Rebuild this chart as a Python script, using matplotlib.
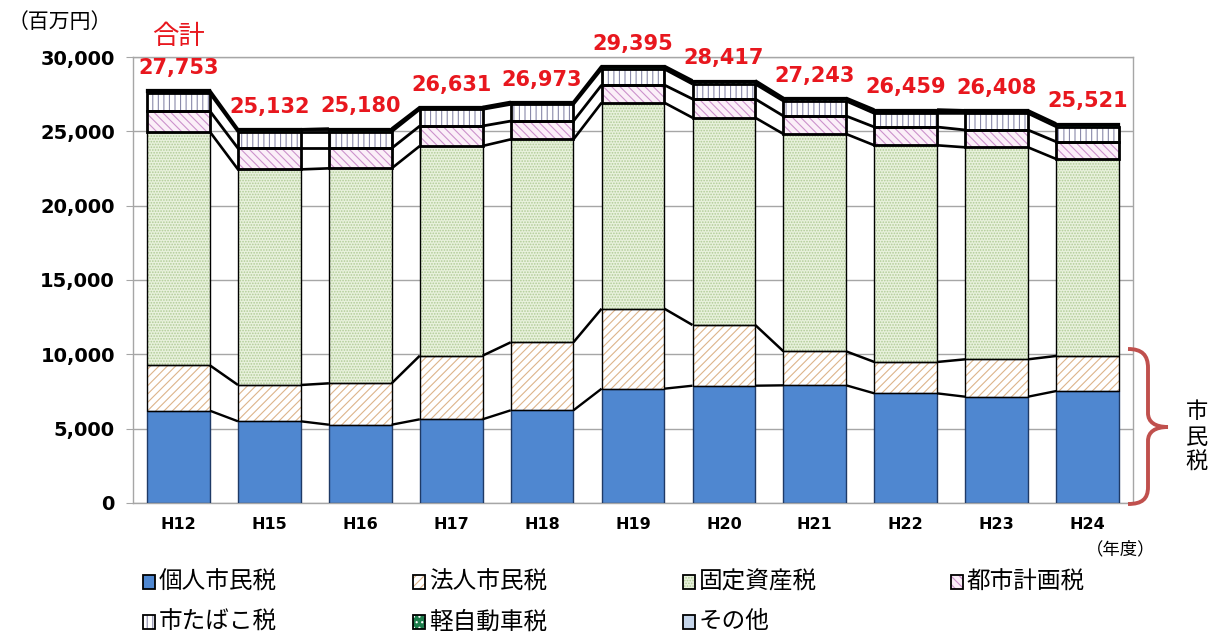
import matplotlib

matplotlib.use("Agg")
import matplotlib.pyplot as plt
import numpy as np
from matplotlib.patches import PathPatch, Rectangle
from matplotlib.path import Path
from matplotlib.ticker import FuncFormatter

# 年度別 市税収入 (百万円)
years = ["H12", "H15", "H16", "H17", "H18", "H19", "H20", "H21", "H22", "H23", "H24"]
kojin = [6210, 5495, 5267, 5630, 6235, 7690, 7890, 7915, 7375, 7150, 7530]
hojin = [3052, 2442, 2783, 4280, 4575, 5380, 4080, 2285, 2110, 2515, 2360]
kotei = [15713, 14503, 14460, 14105, 13650, 13855, 13945, 14620, 14575, 14260, 13250]
toshi = [1395, 1420, 1350, 1345, 1230, 1190, 1260, 1210, 1230, 1165, 1160]
tabako = [1190, 1115, 1115, 1120, 1125, 1075, 1005, 1010, 920, 1118, 1010]
keiji = [100, 105, 108, 110, 112, 115, 118, 120, 122, 125, 130]
sonota = [93, 52, 97, 41, 46, 90, 119, 83, 127, 75, 81]
totals = [27753, 25132, 25180, 26631, 26973, 29395, 28417, 27243, 26459, 26408, 25521]

labels = ["個人市民税", "法人市民税", "固定資産税", "都市計画税", "市たばこ税", "軽自動車税", "その他"]

JP = ["Noto Sans CJK JP", "DejaVu Sans"]
RED = "#E8171E"
W, H = 1211, 635

plt.rcParams["hatch.linewidth"] = 0.8

# face, hatch, hatch colour, outline colour, outline width, connector width
styles = [
    ("#4F87D0", None, "#4F87D0", "#1F3A66", 1.0, 1.7),
    ("#FFFFFF", "////", "#DDB48A", "#000000", 1.0, 1.8),
    ("#E8F1DC", "......", "#B0CB96", "#000000", 1.0, 1.9),
    ("#FBEFF8", "\\\\\\\\", "#CC92CC", "#000000", 2.0, 2.0),
    ("#FFFFFF", "|||", "#8A8AAA", "#000000", 2.0, 2.0),
    ("#1E7D4C", "...", "#FFFFFF", "#000000", 0.8, 1.2),
    ("#C5D5EA", None, "#C5D5EA", "#000000", 1.6, 2.0),
]
series = [kojin, hojin, kotei, toshi, tabako, keiji, sonota]


def fxy(x, y):
    return (x / W, 1 - y / H)


fig = plt.figure(figsize=(W / 100, H / 100), dpi=100)
ax = fig.add_axes([133 / W, 1 - 503 / H, 1000 / W, 446 / H])

x = np.arange(len(years))
bw = 0.69
bottom = np.zeros(len(years))
for vals, (face, hatch, hcol, ecol, lw, clw) in zip(series, styles):
    vals = np.array(vals, dtype=float)
    ax.bar(x, vals, bw, bottom=bottom, color=face, hatch=hatch, edgecolor=hcol, linewidth=0, zorder=2)
    ax.bar(x, vals, bw, bottom=bottom, facecolor="none", edgecolor=ecol, linewidth=lw, zorder=3)
    bottom = bottom + vals
    for i in range(len(years) - 1):
        ax.plot([x[i] + bw / 2, x[i + 1] - bw / 2], [bottom[i], bottom[i + 1]],
                color="black", lw=clw, zorder=4, solid_capstyle="butt")

for i, t in enumerate(totals):
    ax.text(x[i], t + 1100, f"{t:,}", ha="center", va="baseline", color=RED,
            fontsize=15, fontweight="bold", clip_on=False)
ax.text(0, 31400, "合計", ha="center", va="center", color=RED, fontsize=19,
        family=JP, clip_on=False)

ax.set_xlim(-0.5, len(years) - 0.5)
ax.set_ylim(0, 30000)
ax.set_yticks(np.arange(0, 30001, 5000))
ax.yaxis.set_major_formatter(FuncFormatter(lambda v, _: f"{int(v):,}"))
ax.set_xticks(x)
ax.set_xticklabels(years, fontsize=11.5, fontweight="bold")
ax.tick_params(axis="x", length=0, pad=10)
ax.tick_params(axis="y", length=5, color="#A6A6A6", pad=8, labelsize=14)
for lab in ax.get_yticklabels():
    lab.set_fontweight("bold")
ax.yaxis.grid(True, color="#A6A6A6", lw=1)
ax.set_axisbelow(True)
for s in ax.spines.values():
    s.set_color("#A6A6A6")
    s.set_linewidth(1)

fig.text(*fxy(60, 22), "（百万円）", ha="center", va="center", fontsize=15, family=JP)
fig.text(*fxy(1121, 549), "（年度）", ha="center", va="center", fontsize=12.5, family=JP)

# brace for 市民税
pts = [(1128, 349), (1142, 349), (1148, 355), (1148, 368), (1148, 413),
       (1148, 422), (1155, 427), (1168, 427), (1155, 427), (1148, 432), (1148, 441),
       (1148, 487), (1148, 499), (1142, 504), (1128, 504)]
codes = [Path.MOVETO, Path.CURVE4, Path.CURVE4, Path.CURVE4, Path.LINETO,
         Path.CURVE4, Path.CURVE4, Path.CURVE4, Path.CURVE4, Path.CURVE4, Path.CURVE4,
         Path.LINETO, Path.CURVE4, Path.CURVE4, Path.CURVE4]
brace = Path([fxy(px, py) for px, py in pts], codes)
fig.add_artist(PathPatch(brace, facecolor="none", edgecolor="#C0504D", lw=2.8,
                         transform=fig.transFigure))
fig.text(*fxy(1197, 437), "市\n民\n税", ha="center", va="center", fontsize=16,
         family=JP, linespacing=1.15)

# legend
col_x = [143, 413, 683, 951]
row_y = [582, 622]
for k, (lab, (face, hatch, hcol, ecol, lw, clw)) in enumerate(zip(labels, styles)):
    cx, cy = col_x[k % 4], row_y[k // 4]
    x0, y0 = fxy(cx, cy + 7)
    fig.add_artist(Rectangle((x0, y0), 12 / W, 14 / H, transform=fig.transFigure,
                             facecolor=face, hatch=hatch, edgecolor=hcol, linewidth=0))
    fig.add_artist(Rectangle((x0, y0), 12 / W, 14 / H, transform=fig.transFigure,
                             facecolor="none", edgecolor="black", linewidth=1.3))
    fig.text(*fxy(cx + 16, cy), lab, ha="left", va="center", fontsize=17, family=JP)

fig.savefig("out.png", dpi=100)
